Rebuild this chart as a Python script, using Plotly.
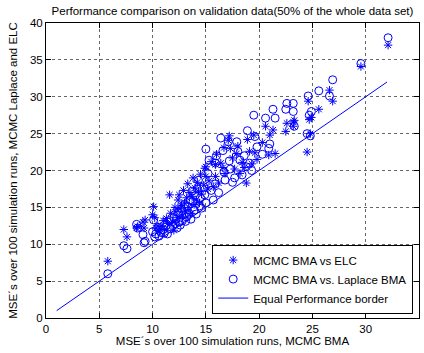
import plotly.graph_objects as go

# MSE of MCMC BMA (shared x for both series)
mse_bma = [5.8, 7.3, 7.6, 8.5, 8.6, 9.1, 9.2, 9.3, 10.0, 10.1,
           10.2, 10.3, 10.5, 10.6, 10.8, 11.0, 11.1, 11.3, 11.4, 11.6,
           11.7, 11.9, 12.0, 12.1, 12.2, 12.3, 12.4, 12.5, 12.6, 12.7,
           12.8, 12.9, 13.0, 13.1, 13.2, 13.3, 13.4, 13.5, 13.6, 13.7,
           13.8, 13.9, 14.0, 14.1, 14.2, 14.3, 14.4, 14.5, 14.6, 14.8,
           14.9, 15.0, 15.0, 15.2, 15.3, 15.5, 15.7, 15.9, 15.9, 16.0,
           16.2, 16.4, 16.6, 16.7, 16.8, 17.1, 17.2, 17.3, 17.5, 17.7,
           17.9, 18.0, 18.2, 18.4, 18.6, 18.8, 18.9, 19.1, 19.3, 19.5,
           19.6, 19.8, 20.3, 20.6, 20.9, 21.0, 21.3, 21.5, 22.5, 22.6,
           23.2, 23.2, 23.3, 24.5, 24.6, 24.7, 24.8, 24.9, 25.6, 26.6,
           26.9, 29.55, 32.1]

# MSE of ELC
mse_elc = [7.7, 12.0, 11.0, 12.2, 12.4, 13.0, 12.2, 13.3, 14.0, 15.1,
           13.6, 12.2, 12.5, 11.8, 12.4, 13.2, 12.0, 13.5, 12.8, 16.7,
           14.2, 13.0, 11.9, 15.0, 14.4, 13.6, 16.0, 16.7, 14.8, 15.3,
           13.8, 17.3, 15.6, 14.4, 16.3, 18.2, 15.0, 17.0, 14.2, 16.5,
           19.0, 15.4, 17.6, 16.0, 18.4, 17.2, 15.6, 19.5, 16.8, 18.0,
           20.3, 19.2, 20.5, 17.5, 18.6, 21.2, 17.8, 20.8, 19.2, 22.2,
           18.3, 21.0, 20.4, 23.1, 19.6, 24.1, 24.7, 23.0, 21.7, 20.2,
           22.3, 23.3, 19.6, 21.1, 20.4, 18.3, 24.2, 22.6, 20.9, 24.8,
           22.4, 21.5, 23.8, 26.0, 22.1, 24.8, 25.5, 22.3, 25.3, 26.4,
           26.0, 26.6, 26.8, 22.5, 29.4, 26.9, 25.0, 27.2, 28.3, 30.9,
           29.4, 34.1, 37.0]

# MSE of Laplace BMA
mse_laplace = [6.0, 9.8, 9.4, 12.7, 12.2, 11.3, 10.2, 10.4, 11.7, 13.3,
               11.0, 11.4, 12.3, 11.1, 11.6, 12.0, 11.5, 12.6, 11.4, 13.2,
               12.1, 12.5, 13.6, 12.8, 13.4, 12.2, 14.3, 13.0, 12.6, 14.8,
               13.2, 14.0, 15.4, 13.1, 13.7, 15.1, 14.2, 16.0, 13.4, 17.2,
               15.8, 14.6, 16.6, 14.1, 17.5, 18.7, 15.2, 16.3, 14.9, 17.8,
               16.7, 22.9, 15.6, 19.6, 21.4, 17.3, 16.0, 21.0, 18.2, 22.0,
               17.0, 24.4, 22.7, 19.8, 18.7, 23.9, 21.3, 20.2, 18.4, 19.0,
               23.9, 22.6, 21.4, 19.4, 22.0, 20.5, 25.4, 21.0, 20.0, 27.5,
               24.6, 23.2, 22.2, 27.1, 23.0, 23.6, 28.3, 27.1, 28.3, 29.1,
               28.0, 29.1, 26.0, 25.0, 30.1, 27.5, 24.7, 28.0, 30.8, 30.1,
               32.3, 34.5, 38.0]

equal_line = [1, 32]

names = ["MCMC BMA vs ELC", "MCMC BMA vs. Laplace BMA", "Equal Performance border"]
title = "Performance comparison on validation data(50% of the whole data set)"
x_title = "MSE\u00b4s over 100 simulation runs, MCMC BMA"
y_title = "MSE\u00b4s over 100 simulation runs, MCMC Laplace and ELC"

BLUE = "#0000ff"
FONT = "Liberation Sans"
FS = 11.5

fig = go.Figure()
fig.add_trace(go.Scatter(
    x=mse_bma, y=mse_elc, mode="markers", name=names[0],
    marker=dict(symbol="asterisk-open", size=7, color=BLUE,
                line=dict(color=BLUE, width=1)),
))
fig.add_trace(go.Scatter(
    x=mse_bma, y=mse_laplace, mode="markers", name=names[1],
    marker=dict(symbol="circle-open", size=8, color=BLUE,
                line=dict(color=BLUE, width=1)),
))
fig.add_trace(go.Scatter(
    x=equal_line, y=equal_line, mode="lines", name=names[2],
    line=dict(color=BLUE, width=1),
))

fig.update_layout(
    template="none",
    width=424, height=353, autosize=False,
    margin=dict(l=46, r=5, t=23, b=35, pad=0),
    paper_bgcolor="white", plot_bgcolor="white",
    font=dict(family=FONT, size=FS, color="black"),
    title=dict(text=title, x=0.5, xref="paper", xanchor="center",
               y=0.969, yref="container", yanchor="middle",
               font=dict(family=FONT, size=FS, color="black")),
    legend=dict(x=0.715, xanchor="center", y=0.015, yanchor="bottom",
                bgcolor="white", bordercolor="black", borderwidth=1,
                font=dict(family=FONT, size=FS, color="black")),
    showlegend=True,
    hovermode=False,
)

for upd, rng, ttl, so in ((fig.update_xaxes, [0, 35], x_title, 1),
                          (fig.update_yaxes, [0, 40], y_title, 9)):
    upd(range=rng, autorange=False, tickmode="linear", tick0=0, dtick=5,
        showline=True, linecolor="black", linewidth=1, mirror="ticks",
        ticks="inside", ticklen=5, tickcolor="black", tickwidth=1,
        showgrid=True, gridcolor="#666666", gridwidth=1, griddash="dot",
        zeroline=False, automargin=False, showticklabels=True,
        tickfont=dict(family=FONT, size=FS, color="black"),
        title=dict(text=ttl, standoff=so, font=dict(family=FONT, size=FS, color="black")))

# remove the browser's default page margin so the figure sits at (0, 0)
page_css = "document.body.style.margin='0';document.body.style.padding='0';"

fig.write_html("out.html", post_script=page_css,
               config={"displayModeBar": False, "staticPlot": False})
